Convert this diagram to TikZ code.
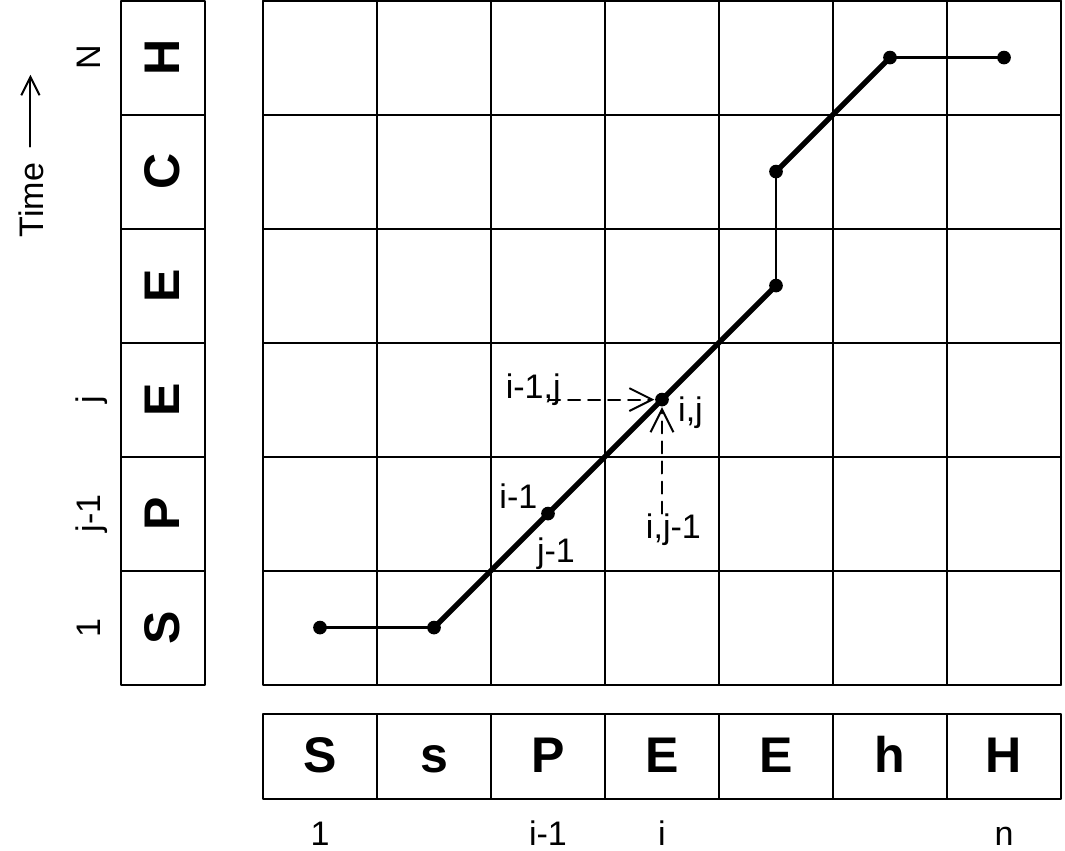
\documentclass[tikz,border=0pt]{standalone}
\usepackage{fontspec}
\setmainfont{Liberation Sans}
\usetikzlibrary{arrows.meta}
\begin{document}
\begin{tikzpicture}[x=1cm,y=1cm,line cap=round,line join=round,
  letter/.style={font=\fontsize{12.5}{14}\selectfont\bfseries,text height=1.6ex,text depth=0pt},
  lab/.style={font=\fontsize{8.5}{10}\selectfont,inner sep=1pt,text height=1.6ex,text depth=0.4ex},
  dot/.style={circle,fill,inner sep=0pt,minimum size=1.2mm},
  warp/.style={line width=1.3pt},
  hop/.style={line width=0.6pt},
  back/.style={densely dashed,line width=0.5pt,-{Straight Barb[length=2mm,width=2mm]}}]
  \useasboundingbox (-2.307,-1.456) rectangle (7.035,6.005);

  % grid of local distances
  \draw[line width=0.5pt] (0,0) grid (7,6);

  % test pattern (time axis)
  \foreach \l [count=\k from 0] in {S,P,E,E,C,H} {
    \draw[line width=0.5pt] (-1.246,\k) rectangle (-0.509,\k+1);
    \node[letter,rotate=90] (t\k) at (-0.877,\k+0.5) {\l};
  }
  % reference pattern
  \foreach \l [count=\k from 0] in {S,s,P,E,E,h,H} {
    \draw[line width=0.5pt] (\k,-1) rectangle (\k+1,-0.254);
    \node[letter] (r\k) at (\k+0.5,-0.627) {\l};
  }

  % indices
  \node[lab] (n1) at (0.5,-1.30) {1};
  \node[lab] (nim) at (2.5,-1.30) {i-1};
  \node[lab] (ni) at (3.5,-1.30) {i};
  \node[lab] (nn) at (6.5,-1.30) {n};
  \node[lab,rotate=90] (m1) at (-1.535,0.5) {1};
  \node[lab,rotate=90] (mjm) at (-1.535,1.5) {j-1};
  \node[lab,rotate=90] (mj) at (-1.535,2.5) {j};
  \node[lab,rotate=90] (mN) at (-1.535,5.5) {N};
  \node[lab,rotate=90] (time) at (-2.04,4.25) {Time};
  \draw[line width=0.5pt,-{Straight Barb[length=1.6mm,width=1.6mm]}]
    ([yshift=0.1cm]time.east) -- ++(0,0.63);

  % warping path
  \node[dot] (p1) at (0.5,0.5) {};
  \node[dot] (p2) at (1.5,0.5) {};
  \node[dot] (p3) at (2.5,1.5) {};
  \node[dot] (p4) at (3.5,2.5) {};
  \node[dot] (p5) at (4.5,3.5) {};
  \node[dot] (p6) at (4.5,4.5) {};
  \node[dot] (p7) at (5.5,5.5) {};
  \node[dot] (p8) at (6.5,5.5) {};
  \draw[hop] (p1.center) -- (p2.center);
  \draw[warp] (p2.center) -- (p3.center) -- (p4.center) -- (p5.center);
  \draw[hop] (p5.center) -- (p6.center);
  \draw[warp] (p6.center) -- (p7.center);
  \draw[hop] (p7.center) -- (p8.center);

  % predecessors of (i,j)
  \coordinate (left) at (2.5,2.5);
  \coordinate (below) at (3.5,1.5);
  \draw[back] (left) -- (p4);
  \draw[back] (below) -- (p4);
  \node[lab] (lleft) at (2.37,2.62) {i-1,j};
  \node[lab] (lij) at (3.75,2.42) {i,j};
  \node[lab] (lbelow) at (3.6,1.39) {i,j-1};
  \node[lab] (lpi) at (2.24,1.66) {i-1};
  \node[lab] (lpj) at (2.57,1.18) {j-1};
\end{tikzpicture}
\end{document}
